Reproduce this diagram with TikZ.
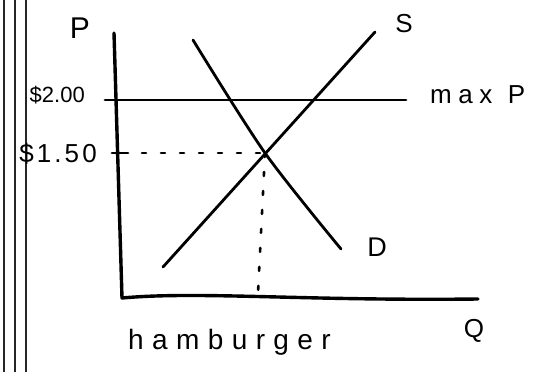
\documentclass[tikz,border=0pt]{standalone}
\usepackage{fontspec}
\setmainfont{Liberation Sans}
\usetikzlibrary{calc}
\begin{document}
\begin{tikzpicture}[
    x=1pt, y=-1pt,
    axis/.style={line width=3.4pt, line cap=round, line join=round},
    curve/.style={line width=2.8pt, line cap=round},
    guide/.style={line width=2.6pt, line cap=round, dash pattern=on 4pt off 15pt},
    margin/.style={line width=1.1pt, black!85},
    hand/.style={inner sep=0pt, font=\fontsize{25}{28}\selectfont}
]
  \useasboundingbox (0,0) rectangle (555,372);

  % scanned page margin
  \foreach \x in {4,15,26} {
    \draw[margin] (\x,0) -- (\x,372);
  }

  \coordinate (ytop) at (114,33);
  \coordinate (orig) at (122,298);
  \coordinate (xend) at (478,299);
  \coordinate (maxl) at (105,100);
  \coordinate (maxr) at (406,100);
  \coordinate (eq) at (265,153);
  \coordinate (tick) at (112,153);
  \coordinate (qeq) at (258,293);

  % axes
  \draw[axis] (ytop) -- (orig) .. controls (200,291) and (300,301) .. (xend);

  % price ceiling
  \draw[curve] (maxl) -- (maxr);

  % supply and demand
  \draw[curve] (163,267) -- (375,32);
  \draw[curve] plot[smooth] coordinates {(193,40) (eq) (341,249)};

  % equilibrium guides
  \draw[curve] (tick) -- ++(16,0);
  \draw[guide] ($(tick)+(30,0)$) -- (eq);
  \draw[guide] (eq) -- (qeq);

  % labels
  \node[hand, font=\fontsize{30}{34}\selectfont] (plab) at (80,28) {P};
  \node[hand, font=\fontsize{22}{25}\selectfont, anchor=east] (ptwo) at (85,95) {\$2.00};
  \node[hand, font=\fontsize{26}{30}\selectfont\addfontfeature{LetterSpace=12}, anchor=east] (pone) at (97,154) {\$1.50};
  \node[hand, font=\fontsize{26}{30}\selectfont\addfontfeature{LetterSpace=25}, anchor=base west] (maxp) at (430,103) {max\hspace{0.6em}P};
  \node[hand, font=\fontsize{26}{30}\selectfont] (slab) at (404,24) {S};
  \node[hand, font=\fontsize{27}{30}\selectfont] (dlab) at (377,247) {D};
  \node[hand, font=\fontsize{26}{30}\selectfont] (qlab) at (474,331) {Q};
  \node[hand, font=\fontsize{28}{32}\selectfont\addfontfeature{LetterSpace=30}, anchor=base west] (good) at (128,349) {hamburger};
\end{tikzpicture}
\end{document}
